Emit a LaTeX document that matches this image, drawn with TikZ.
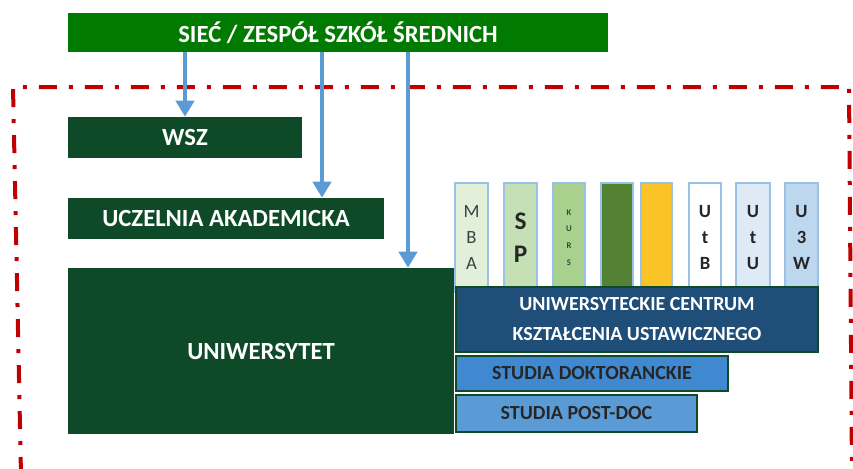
\documentclass[tikz,border=0pt]{standalone}
\usepackage{fontspec}
\setmainfont{Carlito}
\usetikzlibrary{arrows.meta}
\definecolor{topgreen}{RGB}{0,122,0}
\definecolor{dkgreen}{RGB}{15,74,40}
\definecolor{arrblue}{RGB}{91,155,213}
\definecolor{dashred}{RGB}{192,0,0}
\definecolor{uckublue}{RGB}{31,78,121}
\definecolor{doktblue}{RGB}{64,136,208}
\definecolor{pdblue}{RGB}{91,155,213}
\definecolor{thinblue}{RGB}{155,194,230}
\definecolor{cA}{RGB}{226,239,218}
\definecolor{cB}{RGB}{197,224,180}
\definecolor{cC}{RGB}{169,209,142}
\definecolor{cD}{RGB}{84,130,53}
\definecolor{cE}{RGB}{250,196,40}
\definecolor{cF}{RGB}{255,255,255}
\definecolor{cG}{RGB}{222,235,247}
\definecolor{cH}{RGB}{189,215,238}
\definecolor{lettergrey}{RGB}{64,64,64}
\begin{document}
\begin{tikzpicture}[x=0.75pt,y=-0.75pt,
  fbox/.style={inner sep=0pt,font=\bfseries\fontsize{18.5}{22}\selectfont,text=white},
  gbox/.style={fbox,fill=dkgreen},
  bluebox/.style={inner sep=0pt,draw=dkgreen,line width=1.5pt,font=\bfseries\fontsize{15}{22.5}\selectfont},
  vbox/.style={inner sep=0pt,draw=thinblue,line width=0.8pt,align=center,minimum height=81.75pt},
  arr/.style={arrblue,line width=3.5pt,-{Triangle[width=13.5pt,length=12pt]}},
  redline/.style={dashred,line width=3pt,dash pattern=on 13.5pt off 9pt on 3pt off 9pt}
]
\useasboundingbox (0,0) rectangle (853,468);
% red dash-dot frame
\draw[redline] (21,475) -- (13,87) -- (849,87) -- (852,475);
% top box
\node[fbox,fill=topgreen,minimum width=405pt,minimum height=29.25pt] (top) at (338,32.5) {SIEĆ / ZESPÓŁ SZKÓŁ ŚREDNICH};
% green boxes
\node[gbox,minimum width=175.5pt,minimum height=30.75pt] (wsz) at (185,137.5) {WSZ};
\node[gbox,minimum width=237pt,minimum height=30.75pt] (ucz) at (226,218.5) {UCZELNIA AKADEMICKA};
\node[gbox,minimum width=289.5pt,minimum height=124.5pt] (uni) at (261,351) {UNIWERSYTET};
% vertical small boxes
\node[vbox,fill=cA,minimum width=24.75pt,font=\fontsize{14}{19.5}\selectfont,text=lettergrey] (mba) at (471.5,237.5) {M\\B\\A};
\node[vbox,fill=cB,minimum width=24.75pt,font=\bfseries\fontsize{19}{25}\selectfont,text=black!85] (sp) at (520.5,237.5) {S\\P};
\node[vbox,fill=cC,minimum width=24pt,font=\bfseries\fontsize{6.5}{12.5}\selectfont,text=lettergrey] (kurs) at (569,237.5) {K\\U\\R\\S};
\node[vbox,fill=cD,minimum width=24pt] (dk) at (617,237.5) {};
\node[vbox,fill=cE,minimum width=23.25pt] (ye) at (656.5,237.5) {};
\node[vbox,fill=cF,minimum width=24pt,font=\bfseries\fontsize{14}{19.5}\selectfont,text=black!85] (utb) at (705,237.5) {U\\t\\B};
\node[vbox,fill=cG,minimum width=25.5pt,font=\bfseries\fontsize{14}{19.5}\selectfont,text=black!85] (utu) at (753,237.5) {U\\t\\U};
\node[vbox,fill=cH,minimum width=24.75pt,font=\bfseries\fontsize{14}{19.5}\selectfont,text=black!85] (u3w) at (801.5,237.5) {U\\3\\W};
% blue boxes
\node[bluebox,fill=uckublue,text=white,align=center,minimum width=271.5pt,minimum height=48.75pt] (ucku) at (637,319.5) {UNIWERSYTECKIE CENTRUM\\KSZTAŁCENIA USTAWICZNEGO};
\node[bluebox,fill=doktblue,text=black!85,minimum width=204pt,minimum height=26.25pt] (dokt) at (592,373.5) {STUDIA DOKTORANCKIE};
\node[bluebox,fill=pdblue,text=black!85,minimum width=180.75pt,minimum height=27.75pt] (pd) at (576.5,413.5) {STUDIA POST-DOC};
% arrows
\coordinate (a1) at (185,0);
\coordinate (a2) at (322,0);
\coordinate (a3) at (408,0);
\draw[arr] (top.south -| a1) -- (wsz.north -| a1);
\draw[arr] (top.south -| a2) -- (ucz.north -| a2);
\draw[arr] (top.south -| a3) -- (uni.north -| a3);
\end{tikzpicture}
\end{document}
